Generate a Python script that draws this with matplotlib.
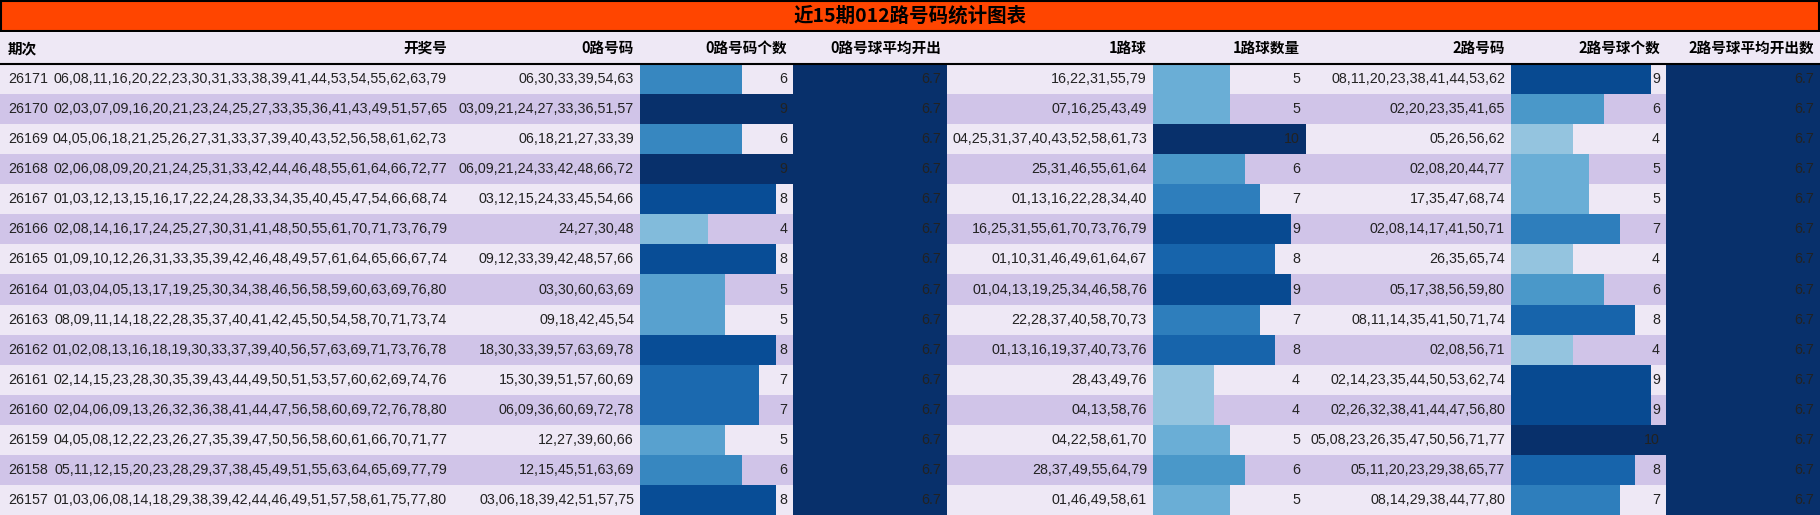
import matplotlib
matplotlib.use("Agg")
import matplotlib.pyplot as plt
from matplotlib import cm, font_manager

title = "近15期012路号码统计图表"
headers = ["期次", "开奖号", "0路号码", "0路号码个数", "0路号球平均开出", "1路球", "1路球数量", "2路号码", "2路号球个数", "2路号球平均开出数"]
periods = ["26171","26170","26169","26168","26167","26166","26165","26164","26163","26162","26161","26160","26159","26158","26157"]
draws = [
"06,08,11,16,20,22,23,30,31,33,38,39,41,44,53,54,55,62,63,79",
"02,03,07,09,16,20,21,23,24,25,27,33,35,36,41,43,49,51,57,65",
"04,05,06,18,21,25,26,27,31,33,37,39,40,43,52,56,58,61,62,73",
"02,06,08,09,20,21,24,25,31,33,42,44,46,48,55,61,64,66,72,77",
"01,03,12,13,15,16,17,22,24,28,33,34,35,40,45,47,54,66,68,74",
"02,08,14,16,17,24,25,27,30,31,41,48,50,55,61,70,71,73,76,79",
"01,09,10,12,26,31,33,35,39,42,46,48,49,57,61,64,65,66,67,74",
"01,03,04,05,13,17,19,25,30,34,38,46,56,58,59,60,63,69,76,80",
"08,09,11,14,18,22,28,35,37,40,41,42,45,50,54,58,70,71,73,74",
"01,02,08,13,16,18,19,30,33,37,39,40,56,57,63,69,71,73,76,78",
"02,14,15,23,28,30,35,39,43,44,49,50,51,53,57,60,62,69,74,76",
"02,04,06,09,13,26,32,36,38,41,44,47,56,58,60,69,72,76,78,80",
"04,05,08,12,22,23,26,27,35,39,47,50,56,58,60,61,66,70,71,77",
"05,11,12,15,20,23,28,29,37,38,45,49,51,55,63,64,65,69,77,79",
"01,03,06,08,14,18,29,38,39,42,44,46,49,51,57,58,61,75,77,80",
]
road0 = ["06,30,33,39,54,63","03,09,21,24,27,33,36,51,57","06,18,21,27,33,39","06,09,21,24,33,42,48,66,72",
"03,12,15,24,33,45,54,66","24,27,30,48","09,12,33,39,42,48,57,66","03,30,60,63,69","09,18,42,45,54",
"18,30,33,39,57,63,69,78","15,30,39,51,57,60,69","06,09,36,60,69,72,78","12,27,39,60,66","12,15,45,51,63,69",
"03,06,18,39,42,51,57,75"]
count0 = [6,9,6,9,8,4,8,5,5,8,7,7,5,6,8]
avg0 = [6.7]*15
road1 = ["16,22,31,55,79","07,16,25,43,49","04,25,31,37,40,43,52,58,61,73","25,31,46,55,61,64","01,13,16,22,28,34,40",
"16,25,31,55,61,70,73,76,79","01,10,31,46,49,61,64,67","01,04,13,19,25,34,46,58,76","22,28,37,40,58,70,73",
"01,13,16,19,37,40,73,76","28,43,49,76","04,13,58,76","04,22,58,61,70","28,37,49,55,64,79","01,46,49,58,61"]
count1 = [5,5,10,6,7,9,8,9,7,8,4,4,5,6,5]
road2 = ["08,11,20,23,38,41,44,53,62","02,20,23,35,41,65","05,26,56,62","02,08,20,44,77","17,35,47,68,74",
"02,08,14,17,41,50,71","26,35,65,74","05,17,38,56,59,80","08,11,14,35,41,50,71,74","02,08,56,71",
"02,14,23,35,44,50,53,62,74","02,26,32,38,41,44,47,56,80","05,08,23,26,35,47,50,56,71,77",
"05,11,20,23,29,38,65,77","08,14,29,38,44,77,80"]
count2 = [9,6,4,5,5,7,4,6,8,4,9,9,10,8,7]
avg2 = [6.7]*15

W, H = 1820, 515
fig = plt.figure(figsize=(W/100, H/100), dpi=100)
ax = fig.add_axes([0, 0, 1, 1])
ax.set_xlim(0, W); ax.set_ylim(H, 0); ax.axis("off")

col_edges = [0, 58, 453, 640, 793, 947, 1153, 1306, 1511, 1666, 1820]
title_h, head_h = 32, 32
row_h = (H - title_h - head_h) / len(periods)
cjk = ["Noto Sans CJK SC", "DejaVu Sans"]
numf = ["Liberation Sans", "Noto Sans CJK SC"]
fs = 10.3

# title
ax.add_patch(plt.Rectangle((1, 1), W-2, title_h-2, facecolor="#FF4500", edgecolor="black", lw=1.5))
ax.text(W/2, title_h/2, title, ha="center", va="center", fontsize=14, fontweight="bold", family=cjk)
# header
ax.add_patch(plt.Rectangle((0, title_h), W, head_h, facecolor="#EEE8F5", edgecolor="none"))
for i, h in enumerate(headers):
    if i == 0:
        ax.text(col_edges[0]+8, title_h+head_h/2, h, ha="left", va="center", fontsize=10.5, fontweight="bold", family=cjk)
    else:
        ax.text(col_edges[i+1]-6, title_h+head_h/2, h, ha="right", va="center", fontsize=10.5, fontweight="bold", family=cjk)
ax.plot([0, W], [title_h+head_h, title_h+head_h], color="black", lw=1.5)

cmap = matplotlib.colormaps["Blues"]
text_cols = {0: periods, 1: draws, 2: road0, 5: road1, 7: road2}
bar_cols = {3: (count0, "{:d}"), 4: (avg0, "{:.1f}"), 6: (count1, "{:d}"), 8: (count2, "{:d}"), 9: (avg2, "{:.1f}")}

for r in range(len(periods)):
    y0 = title_h + head_h + r*row_h
    yc = y0 + row_h/2
    bg = "#EEE8F5" if r % 2 == 0 else "#D0C4E8"
    ax.add_patch(plt.Rectangle((0, y0), W, row_h, facecolor=bg, edgecolor="none"))
    for c, vals in text_cols.items():
        if c == 0:
            ax.text(col_edges[0]+8, yc, vals[r], ha="left", va="center", fontsize=fs, family=numf, color="#222222")
        else:
            ax.text(col_edges[c+1]-6, yc, vals[r], ha="right", va="center", fontsize=fs, family=numf, color="#222222")
    for c, (vals, fmt) in bar_cols.items():
        vmax = max(vals)
        x0, x1 = col_edges[c], col_edges[c+1]
        v = vals[r]
        ax.barh(yc, (x1-x0)*v/vmax, left=x0, height=row_h, color=cmap(v/vmax), edgecolor="none")
        ax.text(x1-6, yc, fmt.format(v), ha="right", va="center", fontsize=fs, family=numf, color="#222222")

fig.savefig("out.png", dpi=100)
